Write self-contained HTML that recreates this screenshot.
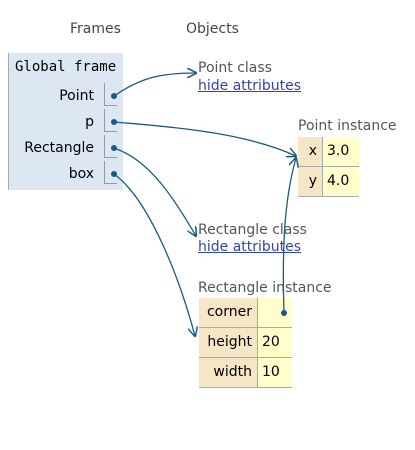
<!DOCTYPE html>
<html><head><style>
body{margin:0;width:415px;height:450px;background:#fff;position:relative;font-family:"DejaVu Sans","Liberation Sans",sans-serif;font-size:14px;color:#000;overflow:hidden}
.a{position:absolute;white-space:nowrap}
.h{color:#444}
.lk{color:#3344aa;text-decoration:underline}
.g{color:#555}
</style></head><body>
<div class="a h" style="left:70px;top:21px">Frames</div>
<div class="a h" style="left:186px;top:21px">Objects</div>
<div class="a" style="left:8px;top:53px;width:114px;height:137px;background:#dde7f3;border-left:1px solid #aaa"></div>
<div class="a" style="left:15px;top:59px;font-family:'DejaVu Sans Mono','Liberation Mono',monospace;font-size:14px">Global frame</div>
<div class="a" style="right:321px;top:88px">Point</div>
<div class="a" style="right:321px;top:114px">p</div>
<div class="a" style="right:321px;top:140px">Rectangle</div>
<div class="a" style="right:321px;top:166px">box</div>
<div class="a" style="left:104px;top:83px;width:12px;height:22px;border-left:1px solid #999;border-bottom:1px solid #999"></div>
<div class="a" style="left:104px;top:109px;width:12px;height:22px;border-left:1px solid #999;border-bottom:1px solid #999"></div>
<div class="a" style="left:104px;top:135px;width:12px;height:22px;border-left:1px solid #999;border-bottom:1px solid #999"></div>
<div class="a" style="left:104px;top:161px;width:12px;height:22px;border-left:1px solid #999;border-bottom:1px solid #999"></div>
<div class="a g" style="left:198px;top:60px">Point class</div>
<div class="a lk" style="left:198px;top:78px">hide attributes</div>
<div class="a g" style="left:198px;top:222px">Rectangle class</div>
<div class="a lk" style="left:198px;top:239px">hide attributes</div>
<div class="a g" style="left:298px;top:118px">Point instance</div>
<div class="a" style="left:298px;top:137px;width:24px;height:29px;background:#f5e6c6;border-right:1px solid #aaa;border-bottom:1px solid #aaa;text-align:right"><span style="position:relative;top:6px;right:5px">x</span></div>
<div class="a" style="left:323px;top:137px;width:36px;height:29px;background:#ffffcc;border-bottom:1px solid #aaa"><span style="position:relative;top:6px;left:4px">3.0</span></div>
<div class="a" style="left:298px;top:167px;width:24px;height:29px;background:#f5e6c6;border-right:1px solid #aaa;border-bottom:1px solid #aaa;text-align:right"><span style="position:relative;top:6px;right:5px">y</span></div>
<div class="a" style="left:323px;top:167px;width:36px;height:29px;background:#ffffcc;border-bottom:1px solid #aaa"><span style="position:relative;top:6px;left:4px">4.0</span></div>
<div class="a g" style="left:198px;top:280px">Rectangle instance</div>
<div class="a" style="left:199px;top:298px;width:58px;height:29px;background:#f5e6c6;border-right:1px solid #aaa;border-bottom:1px solid #aaa;text-align:right"><span style="position:relative;top:6px;right:5px">corner</span></div>
<div class="a" style="left:258px;top:298px;width:34px;height:29px;background:#ffffcc;border-bottom:1px solid #aaa"></div>
<div class="a" style="left:199px;top:328px;width:58px;height:29px;background:#f5e6c6;border-right:1px solid #aaa;border-bottom:1px solid #aaa;text-align:right"><span style="position:relative;top:6px;right:5px">height</span></div>
<div class="a" style="left:258px;top:328px;width:34px;height:29px;background:#ffffcc;border-bottom:1px solid #aaa"><span style="position:relative;top:6px;left:4px">20</span></div>
<div class="a" style="left:199px;top:358px;width:58px;height:29px;background:#f5e6c6;border-right:1px solid #aaa;border-bottom:1px solid #aaa;text-align:right"><span style="position:relative;top:6px;right:5px">width</span></div>
<div class="a" style="left:258px;top:358px;width:34px;height:29px;background:#ffffcc;border-bottom:1px solid #aaa"><span style="position:relative;top:6px;left:4px">10</span></div>
<svg class="a" style="left:0;top:0" width="415" height="450">
<defs><marker id="m" markerWidth="10" markerHeight="10" refX="9" refY="5" orient="auto" markerUnits="userSpaceOnUse"><path d="M0,0 L10,5 L0,10" fill="none" stroke="#1a5a80" stroke-width="1.5"/></marker></defs>
<g stroke="#1a5a80" stroke-width="1.3" fill="none" marker-end="url(#m)">
<path d="M114,96 C140,78 160,73 196,73"/>
<path d="M114,122 C190,128 250,135 296,156"/>
<path d="M114,148 C150,160 175,200 196,236"/>
<path d="M114,174 C150,200 180,280 195,336"/>
<path d="M284,313 C282,250 284,200 296,158"/>
</g>
<g fill="#1a5a80"><circle cx="114" cy="96" r="3"/><circle cx="114" cy="122" r="3"/><circle cx="114" cy="148" r="3"/><circle cx="114" cy="174" r="3"/><circle cx="284" cy="313" r="3"/></g>
</svg>
</body></html>
